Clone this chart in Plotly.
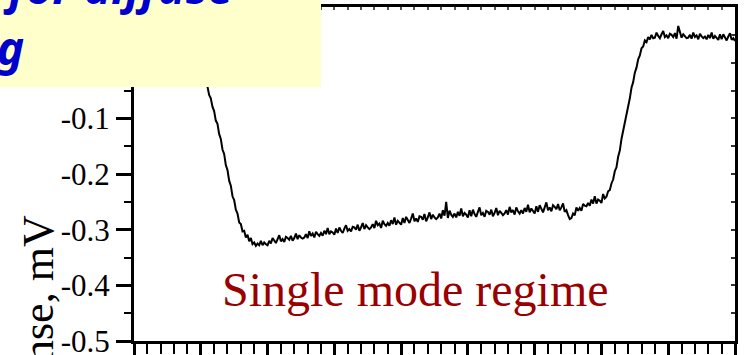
import numpy as np
import plotly.graph_objects as go

# Detector response trace (mV), sampled uniformly along the scan axis
x_start = 0.8
x_step = 0.025
signal_mv = [
    0.070, 0.067, 0.059, 0.055, 0.044, 0.038, 0.025, 0.016, 0.001, -0.008,
    -0.020, -0.035, -0.043, -0.058, -0.064, -0.079, -0.087, -0.104, -0.110, -0.128,
    -0.137, -0.156, -0.164, -0.184, -0.193, -0.212, -0.221, -0.240, -0.247, -0.264,
    -0.271, -0.287, -0.290, -0.303, -0.302, -0.314, -0.309, -0.321, -0.315, -0.326,
    -0.323, -0.329, -0.325, -0.328, -0.320, -0.328, -0.323, -0.326, -0.328, -0.320,
    -0.325, -0.315, -0.321, -0.324, -0.317, -0.310, -0.321, -0.317, -0.322, -0.313,
    -0.315, -0.318, -0.311, -0.320, -0.315, -0.307, -0.317, -0.310, -0.314, -0.316,
    -0.314, -0.308, -0.315, -0.303, -0.311, -0.307, -0.314, -0.304, -0.308, -0.311,
    -0.306, -0.311, -0.302, -0.308, -0.297, -0.308, -0.303, -0.305, -0.309, -0.298,
    -0.306, -0.296, -0.302, -0.306, -0.298, -0.292, -0.302, -0.299, -0.303, -0.295,
    -0.296, -0.300, -0.291, -0.302, -0.296, -0.288, -0.299, -0.292, -0.296, -0.299,
    -0.296, -0.290, -0.297, -0.284, -0.292, -0.289, -0.297, -0.284, -0.290, -0.293,
    -0.288, -0.293, -0.283, -0.290, -0.278, -0.291, -0.284, -0.287, -0.291, -0.279,
    -0.288, -0.277, -0.284, -0.288, -0.280, -0.271, -0.285, -0.280, -0.286, -0.276,
    -0.277, -0.282, -0.272, -0.285, -0.278, -0.269, -0.281, -0.273, -0.278, -0.281,
    -0.278, -0.271, -0.280, -0.265, -0.275, -0.250, -0.279, -0.266, -0.273, -0.277,
    -0.271, -0.278, -0.268, -0.275, -0.262, -0.276, -0.270, -0.273, -0.278, -0.265,
    -0.276, -0.264, -0.272, -0.277, -0.268, -0.260, -0.274, -0.270, -0.277, -0.266,
    -0.268, -0.273, -0.264, -0.276, -0.270, -0.261, -0.274, -0.266, -0.270, -0.274,
    -0.271, -0.265, -0.273, -0.259, -0.269, -0.265, -0.273, -0.260, -0.267, -0.271,
    -0.265, -0.271, -0.261, -0.268, -0.255, -0.269, -0.262, -0.266, -0.271, -0.258,
    -0.268, -0.256, -0.264, -0.269, -0.260, -0.251, -0.265, -0.260, -0.267, -0.256,
    -0.259, -0.263, -0.254, -0.265, -0.260, -0.253, -0.268, -0.265, -0.274, -0.281,
    -0.279, -0.271, -0.274, -0.260, -0.266, -0.261, -0.266, -0.254, -0.257, -0.258,
    -0.252, -0.257, -0.246, -0.253, -0.240, -0.253, -0.246, -0.248, -0.252, -0.236,
    -0.244, -0.241, -0.231, -0.229, -0.217, -0.210, -0.195, -0.188, -0.169, -0.158,
    -0.137, -0.123, -0.104, -0.094, -0.075, -0.064, -0.045, -0.035, -0.018, -0.009,
    0.006, 0.013, 0.026, 0.029, 0.040, 0.037, 0.046, 0.042, 0.050, 0.044,
    0.045, 0.054, 0.048, 0.044, 0.051, 0.057, 0.046, 0.049, 0.044, 0.052,
    0.050, 0.046, 0.053, 0.043, 0.066, 0.055, 0.045, 0.051, 0.047, 0.044,
    0.045, 0.050, 0.043, 0.054, 0.046, 0.049, 0.042, 0.052, 0.047, 0.044,
    0.047, 0.042, 0.050, 0.044, 0.054, 0.043, 0.048, 0.045, 0.041, 0.051,
    0.042, 0.051, 0.045, 0.040, 0.047, 0.053, 0.041, 0.044, 0.039,
]
x_vals = x_start + x_step * np.arange(len(signal_mv))

y_tick_vals = [-0.5, -0.4, -0.3, -0.2, -0.1]
y_tick_text = ["-0.5", "-0.4", "-0.3", "-0.2", "-0.1"]

W, H = 746, 355
ML, MR, MT, MB = 134, 11, 7, 14
PW, PH = W - ML - MR, H - MT - MB


def px_to_paper(px, py):
    return (px - ML) / PW, (H - MB - py) / PH


serif = "Liberation Serif, Times New Roman, serif"

fig = go.Figure()
fig.add_trace(go.Scatter(
    x=x_vals, y=signal_mv, mode="lines",
    line=dict(color="black", width=2),
    showlegend=False, hoverinfo="skip",
))
# carrier for the inner tick rows on the top and right frame
fig.add_trace(go.Scatter(x=[], y=[], xaxis="x2", yaxis="y2",
                         showlegend=False, hoverinfo="skip"))

fig.update_layout(
    width=W, height=H,
    margin=dict(l=ML, r=MR, t=MT, b=MB, autoexpand=False),
    paper_bgcolor="white", plot_bgcolor="white",
    xaxis=dict(
        range=[0, 9], dtick=1, tick0=0, automargin=False,
        showgrid=False, zeroline=False,
        showline=True, linecolor="black", linewidth=3, mirror=True,
        ticks="outside", ticklen=18, tickwidth=2.5, tickcolor="black",
        minor=dict(dtick=0.2, ticks="outside", ticklen=10, tickwidth=2, tickcolor="black"),
        showticklabels=False,
    ),
    yaxis=dict(
        range=[-0.5, 0.1], automargin=False,
        tickvals=y_tick_vals, ticktext=y_tick_text,
        showgrid=False, zeroline=False,
        showline=True, linecolor="black", linewidth=3, mirror=True,
        ticks="outside", ticklen=15, tickwidth=2.5, tickcolor="black",
        minor=dict(dtick=0.05, tick0=0, ticks="outside", ticklen=7, tickwidth=2, tickcolor="black"),
        tickfont=dict(family=serif, size=31, color="black"),
        ticklabelstandoff=0, ticklabeloverflow="allow",
    ),
    xaxis2=dict(
        overlaying="x", side="top", anchor="y2", range=[0, 9], automargin=False,
        showgrid=False, zeroline=False, showline=False,
        ticks="inside", dtick=0.2, tick0=0, ticklen=3, tickwidth=1.5,
        tickcolor="#555555", showticklabels=False,
    ),
    yaxis2=dict(
        overlaying="y", side="right", anchor="x2", range=[-0.5, 0.1], automargin=False,
        showgrid=False, zeroline=False, showline=False,
        ticks="inside", dtick=0.05, tick0=0, ticklen=4, tickwidth=1.5,
        tickcolor="#333333", showticklabels=False,
    ),
)

# yellow caption panel in the upper left corner
bx0, by0 = px_to_paper(0, 0)
bx1, by1 = px_to_paper(321, 87)
fig.add_shape(type="rect", xref="paper", yref="paper",
              x0=bx0 - 0.05, y0=by1, x1=bx1, y1=by0 + 0.05,
              fillcolor="#FFFFCC", line=dict(width=0), layer="above")

caption_font = dict(family="Noto Sans, DejaVu Sans, sans-serif", size=46,
                    color="#0000CC", weight="bold", style="italic")
cx, cy = px_to_paper(235, -14)
fig.add_annotation(xref="paper", yref="paper", x=cx, y=cy,
                   xanchor="right", yanchor="middle", showarrow=False,
                   text="Response for diffuse", font=caption_font)
cx, cy = px_to_paper(26, 47)
fig.add_annotation(xref="paper", yref="paper", x=cx, y=cy,
                   xanchor="right", yanchor="middle", showarrow=False,
                   text="scattering", font=caption_font)

# y-axis title
tx, ty = px_to_paper(39, 344)
fig.add_annotation(xref="paper", yref="paper", x=tx, y=ty,
                   xanchor="center", yanchor="middle", showarrow=False,
                   textangle=-90, text="Response, mV",
                   font=dict(family=serif, size=44, color="black"))

# regime label inside the plot
fig.add_annotation(x=4.21, y=-0.408, xref="x", yref="y",
                   xanchor="center", yanchor="middle", showarrow=False,
                   text="Single mode regime",
                   font=dict(family=serif, size=48, color="#9A0000"))

fig.write_html("out.html")
